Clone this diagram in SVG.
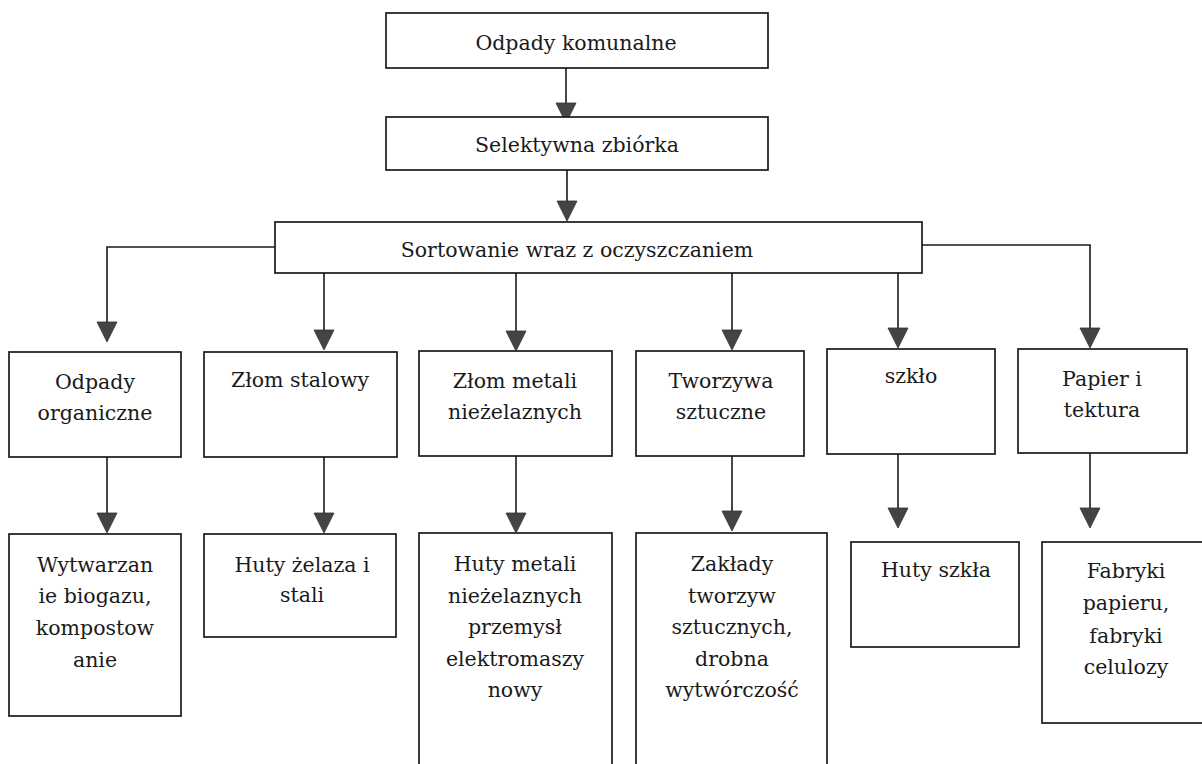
<svg xmlns="http://www.w3.org/2000/svg" xmlns:xlink="http://www.w3.org/1999/xlink" width="1202" height="764" viewBox="0 0 1202 764">
<style>
.box{fill:#fff;stroke:#1a1a1a;stroke-width:1.7}
.ln{fill:none;stroke:#1a1a1a;stroke-width:1.6}
.ah{fill:#444;stroke:#333;stroke-width:0.8}
text{font-family:"DejaVu Serif","Liberation Serif",serif;font-size:20.5px;fill:#1a1a1a;text-anchor:middle}
</style>
<defs>
<path id="head" d="M-10,-20 L10,-20 L0,0 Z"/>
</defs>
<rect width="1202" height="764" fill="#fff"/>
<g id="connectors">
<path class="ln" d="M566,68 V108"/>
<path class="ln" d="M567,170 V204"/>
<path class="ln" d="M275,247 H107 V326"/>
<path class="ln" d="M324,273 V334"/>
<path class="ln" d="M516,273 V335"/>
<path class="ln" d="M732,273 V334"/>
<path class="ln" d="M898,272 V332"/>
<path class="ln" d="M922,245 H1090 V332"/>
<path class="ln" d="M107,457 V517"/>
<path class="ln" d="M324,457 V517"/>
<path class="ln" d="M516,456 V517"/>
<path class="ln" d="M732,456 V515"/>
<path class="ln" d="M898,454 V512"/>
<path class="ln" d="M1090,453 V512"/>
<use xlink:href="#head" class="ah" x="566" y="123"/>
<use xlink:href="#head" class="ah" x="567" y="221"/>
<use xlink:href="#head" class="ah" x="107" y="342"/>
<use xlink:href="#head" class="ah" x="324" y="350"/>
<use xlink:href="#head" class="ah" x="516" y="351"/>
<use xlink:href="#head" class="ah" x="732" y="350"/>
<use xlink:href="#head" class="ah" x="898" y="348"/>
<use xlink:href="#head" class="ah" x="1090" y="348"/>
<use xlink:href="#head" class="ah" x="107" y="533"/>
<use xlink:href="#head" class="ah" x="324" y="533"/>
<use xlink:href="#head" class="ah" x="516" y="533"/>
<use xlink:href="#head" class="ah" x="732" y="531"/>
<use xlink:href="#head" class="ah" x="898" y="528"/>
<use xlink:href="#head" class="ah" x="1090" y="528"/>
</g>
<g id="n-komunalne">
<rect class="box" x="386" y="13" width="382" height="55"/>
<text x="576" y="50">Odpady komunalne</text>
</g>
<g id="n-zbiorka">
<rect class="box" x="386" y="117" width="382" height="53"/>
<text x="577" y="152">Selektywna zbiórka</text>
</g>
<g id="n-sortowanie">
<rect class="box" x="275" y="222" width="647" height="51"/>
<text x="577" y="257">Sortowanie wraz z oczyszczaniem</text>
</g>
<g id="n-organiczne">
<rect class="box" x="9" y="352" width="172" height="105"/>
<text x="95" y="389">Odpady</text>
<text x="95" y="420">organiczne</text>
</g>
<g id="n-stalowy">
<rect class="box" x="204" y="352" width="193" height="105"/>
<text x="300" y="387">Złom stalowy</text>
</g>
<g id="n-niezelazne">
<rect class="box" x="419" y="351" width="193" height="105"/>
<text x="515" y="388">Złom metali</text>
<text x="515" y="419">nieżelaznych</text>
</g>
<g id="n-tworzywa">
<rect class="box" x="636" y="351" width="168" height="105"/>
<text x="721" y="388">Tworzywa</text>
<text x="721" y="419">sztuczne</text>
</g>
<g id="n-szklo">
<rect class="box" x="827" y="349" width="168" height="105"/>
<text x="911" y="383">szkło</text>
</g>
<g id="n-papier">
<rect class="box" x="1018" y="349" width="169" height="104"/>
<text x="1102" y="386">Papier i</text>
<text x="1102" y="417">tektura</text>
</g>
<g id="n-biogaz">
<rect class="box" x="9" y="534" width="172" height="182"/>
<text x="95" y="572">Wytwarzan</text>
<text x="95" y="603">ie biogazu,</text>
<text x="95" y="635">kompostow</text>
<text x="95" y="667">anie</text>
</g>
<g id="n-huty-zelaza">
<rect class="box" x="204" y="534" width="192" height="103"/>
<text x="302" y="572">Huty żelaza i</text>
<text x="302" y="602">stali</text>
</g>
<g id="n-huty-metali">
<rect class="box" x="419" y="533" width="193" height="250"/>
<text x="515" y="571">Huty metali</text>
<text x="515" y="603">nieżelaznych</text>
<text x="515" y="634">przemysł</text>
<text x="515" y="666">elektromaszy</text>
<text x="515" y="697">nowy</text>
</g>
<g id="n-zaklady">
<rect class="box" x="636" y="533" width="191" height="250"/>
<text x="732" y="571">Zakłady</text>
<text x="732" y="603">tworzyw</text>
<text x="732" y="634">sztucznych,</text>
<text x="732" y="666">drobna</text>
<text x="732" y="697">wytwórczość</text>
</g>
<g id="n-huty-szkla">
<rect class="box" x="851" y="542" width="168" height="105"/>
<text x="936" y="577">Huty szkła</text>
</g>
<g id="n-fabryki">
<rect class="box" x="1042" y="542" width="170" height="181"/>
<text x="1126" y="578">Fabryki</text>
<text x="1126" y="610">papieru,</text>
<text x="1126" y="643">fabryki</text>
<text x="1126" y="674">celulozy</text>
</g>
</svg>
